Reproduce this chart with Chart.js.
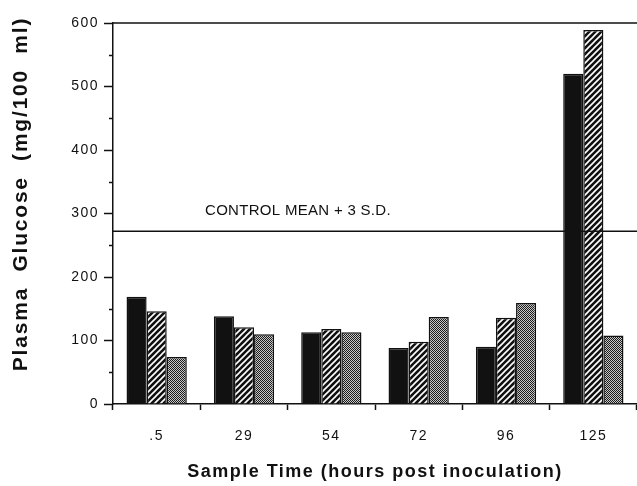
<!DOCTYPE html>
<html>
<head>
<meta charset="utf-8">
<script src="https://cdn.jsdelivr.net/npm/chart.js@4"></script>
<style>
  html, body { margin:0; padding:0; background:#fff; }
  #wrap { width:637px; height:486px; }
</style>
</head>
<body>
<div id="wrap"><canvas id="c"></canvas></div>
<script>
// sample times (hours post inoculation) and the three bar series
const sampleTimes   = ['.5', '29', '54', '72', '96', '125'];
const seriesSolid   = [169, 138, 113, 88, 90, 520];
const seriesHatched = [146, 121, 118, 98, 136, 589];
const seriesDotted  = [74, 110, 113, 137, 159, 108];
const controlLimit  = 272;   // control mean + 3 S.D.
const yMin = 0, yMax = 600, yStep = 100;

const INK = '#111';
const FONT = "'Liberation Sans', Arial, sans-serif";

function makePattern(size, paint){
  const c = document.createElement('canvas');
  c.width = size; c.height = size;
  const g = c.getContext('2d');
  paint(g, size);
  return g.createPattern(c, 'repeat');
}

// diagonal white stripes on black
const hatch = makePattern(6, (g, s) => {
  g.fillStyle = INK; g.fillRect(0, 0, s, s);
  g.strokeStyle = '#fff'; g.lineWidth = 1.6;
  g.beginPath();
  g.moveTo(-1, s + 1); g.lineTo(s + 1, -1);
  g.moveTo(-1, 1);     g.lineTo(1, -1);
  g.moveTo(s - 1, s + 1); g.lineTo(s + 1, s - 1);
  g.stroke();
});

// fine checker, reads as a darkish grey
const dots = makePattern(2, (g) => {
  g.fillStyle = '#c8c8c8'; g.fillRect(0, 0, 2, 2);
  g.fillStyle = '#1a1a1a'; g.fillRect(0, 0, 1, 1); g.fillRect(1, 1, 1, 1);
});

const framePlugin = {
  id: 'frame',
  beforeDraw(chart){ chart.ctx.letterSpacing = '1.5px'; },
  afterDraw(chart){
    const { ctx, chartArea: a, scales: { y } } = chart;
    ctx.save();
    ctx.letterSpacing = '0px';
    ctx.strokeStyle = INK;

    // top frame line runs off to the right edge
    ctx.lineWidth = 1.5;
    ctx.beginPath();
    ctx.moveTo(a.left, a.top); ctx.lineTo(chart.width, a.top);
    ctx.stroke();

    // minor ticks halfway between labelled ones
    ctx.lineWidth = 1.3;
    ctx.beginPath();
    for(let v = yMin + yStep / 2; v < yMax; v += yStep){
      const py = Math.round(y.getPixelForValue(v)) + 0.5;
      ctx.moveTo(a.left - 4, py); ctx.lineTo(a.left, py);
    }
    ctx.stroke();

    // control mean + 3 S.D. reference line
    const cy = y.getPixelForValue(controlLimit);
    ctx.lineWidth = 1.5;
    ctx.beginPath();
    ctx.moveTo(a.left, cy); ctx.lineTo(chart.width, cy);
    ctx.stroke();
    ctx.fillStyle = INK;
    ctx.font = '15px ' + FONT;
    ctx.letterSpacing = '0.3px';
    ctx.textAlign = 'left';
    ctx.textBaseline = 'alphabetic';
    ctx.fillText('CONTROL MEAN + 3 S.D.', a.left + 92, cy - 16);

    // y axis title
    ctx.font = 'bold 21px ' + FONT;
    ctx.letterSpacing = '1.8px';
    ctx.textAlign = 'center';
    ctx.textBaseline = 'middle';
    ctx.translate(21, 194);
    ctx.rotate(-Math.PI / 2);
    ctx.fillText('Plasma  Glucose  (mg/100  ml)', 0, 0);
    ctx.restore();
  }
};

new Chart(document.getElementById('c'), {
  type: 'bar',
  data: {
    labels: sampleTimes,
    datasets: [
      { label: 'solid',   data: seriesSolid,   backgroundColor: INK,   borderColor: INK, borderWidth: 1.5 },
      { label: 'hatched', data: seriesHatched, backgroundColor: hatch, borderColor: INK, borderWidth: 1.5 },
      { label: 'dotted',  data: seriesDotted,  backgroundColor: dots,  borderColor: INK, borderWidth: 1.5 }
    ]
  },
  options: {
    responsive: true,
    maintainAspectRatio: false,
    animation: false,
    layout: { padding: { top: 23, right: 0, bottom: 0, left: 0 } },
    datasets: { bar: { categoryPercentage: 0.69, barPercentage: 1 } },
    plugins: { legend: { display: false }, tooltip: { enabled: false } },
    scales: {
      x: {
        afterFit: s => { s.height = 82; },
        grid: { offset: true, drawOnChartArea: false, tickLength: 6, tickColor: INK, tickWidth: 1.5 },
        border: { display: true, color: INK, width: 1.5 },
        ticks: { color: INK, padding: 18, font: { family: FONT, size: 14 } },
        title: {
          display: true, text: 'Sample Time (hours post inoculation)', color: INK,
          font: { family: FONT, size: 18, weight: 'bold' }, padding: { top: 0, bottom: 3 }
        }
      },
      y: {
        min: yMin, max: yMax,
        afterFit: s => { s.width = 113; },
        grid: { drawOnChartArea: false, tickLength: 9, tickColor: INK, tickWidth: 1.5 },
        border: { display: true, color: INK, width: 1.5 },
        ticks: { stepSize: yStep, color: INK, padding: 5, font: { family: FONT, size: 14 } }
      }
    }
  },
  plugins: [framePlugin]
});
</script>
</body>
</html>
